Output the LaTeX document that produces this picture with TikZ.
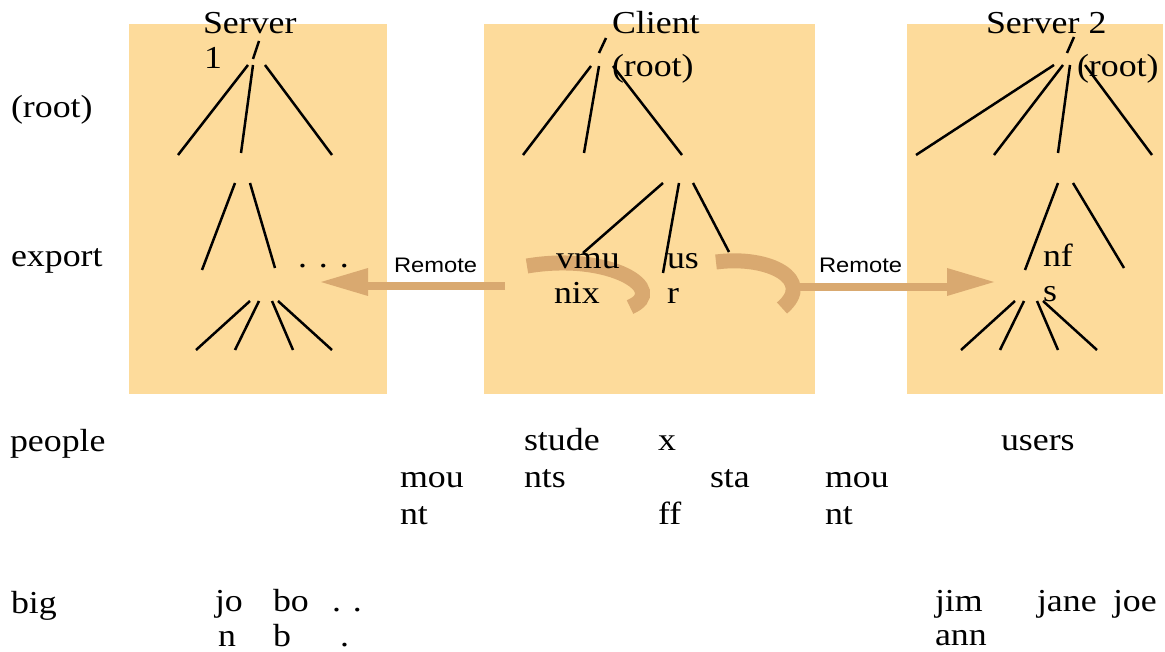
\documentclass[tikz,border=0pt]{standalone}
\usepackage{fontspec}
\usepackage{graphicx}
\setmainfont{Liberation Serif}
\newfontfamily\remotefont{Liberation Sans}
\newcommand{\sx}[1]{\scalebox{1.12}[1]{#1}}
\definecolor{boxfill}{RGB}{253,219,155}
\definecolor{tan}{RGB}{217,169,112}
\tikzset{
  panel/.style={fill=boxfill, draw=none},
  txt/.style={anchor=base west, inner sep=0pt, outer sep=0pt, font=\fontsize{32}{36}\selectfont},
  rem/.style={anchor=base west, inner sep=0pt, outer sep=0pt, font=\remotefont\fontsize{21}{24}\selectfont},
  edge/.style={line width=2.5pt, black},
  hook/.style={line width=15pt, tan},
  shaft/.style={line width=8pt, tan},
  head/.style={fill=tan, draw=none}
}
\begin{document}
\begin{tikzpicture}[x=1pt,y=1pt]
\useasboundingbox (0,0) rectangle (1165,-652);
% panels
\fill[panel] (129,-24) rectangle (387,-394);
\fill[panel] (484,-24) rectangle (815,-394);
\fill[panel] (907,-24) rectangle (1163,-394);
% mount arrows
\coordinate (ls) at (505,-286);
\coordinate (le) at (368,-286);
\coordinate (rs) at (800,-287);
\coordinate (re) at (947,-287);
\draw[shaft] (ls) -- (le);
\fill[head] (368,-268) -- (368,-296) -- (321,-282) -- cycle;
\draw[shaft] (rs) -- (re);
\fill[head] (947,-268) -- (947,-296) -- (994,-282) -- cycle;
\draw[hook] (527,-266) .. controls (610,-252) and (670,-290) .. (630,-307);
\draw[hook] (716,-262) .. controls (770,-255) and (815,-280) .. (782,-308);
% labels
\node[rem] (rem1) at (394,-273) {\scalebox{1.13}[1]{Remote}};
\node[rem] (rem2) at (819,-273) {\scalebox{1.13}[1]{Remote}};
\node[txt] (lroot) at (11,-118) {\sx{(root)}};
\node[txt] (lexport) at (11,-267) {\sx{export}};
\node[txt] (lpeople) at (10,-451) {\sx{people}};
\node[txt] (lbig) at (11,-613) {\sx{big}};
\node[txt] (s1a) at (203,-34) {\sx{Server}};
\node[txt] (s1b) at (204,-69) {\sx{1}};
\node[txt] (cl) at (612,-34) {\sx{Client}};
\node[txt] (clroot) at (612,-77) {\sx{(root)}};
\node[txt] (s2) at (986,-34) {\sx{Server 2}};
\node[txt] (s2root) at (1077,-77) {\sx{(root)}};
\node[txt] (vmu) at (556,-269) {\sx{vmu}};
\node[txt] (nix) at (554,-304) {\sx{nix}};
\node[txt] (us) at (667,-269) {\sx{us}};
\node[txt] (r) at (667,-304) {\sx{r}};
\node[txt] (nf) at (1043,-267) {\sx{nf}};
\node[txt] (s) at (1043,-302) {\sx{s}};
\node[txt] (dots1) at (298,-268) {\sx{. . .}};
\node[txt] (mou1) at (400,-487) {\sx{mou}};
\node[txt] (nt1) at (400,-524) {\sx{nt}};
\node[txt] (stude) at (524,-450) {\sx{stude}};
\node[txt] (nts) at (524,-487) {\sx{nts}};
\node[txt] (x) at (658,-450) {\sx{x}};
\node[txt] (sta) at (710,-487) {\sx{sta}};
\node[txt] (ff) at (658,-524) {\sx{ff}};
\node[txt] (mou2) at (825,-487) {\sx{mou}};
\node[txt] (nt2) at (825,-524) {\sx{nt}};
\node[txt] (users) at (1001,-450) {\sx{users}};
\node[txt] (jo) at (215,-611) {\sx{jo}};
\node[txt] (n) at (218,-646) {\sx{n}};
\node[txt] (bo) at (273,-611) {\sx{bo}};
\node[txt] (b) at (273,-646) {\sx{b}};
\node[txt] (dd) at (332,-611) {\sx{. .}};
\node[txt] (d) at (340,-646) {\sx{.}};
\node[txt] (jim) at (935,-611) {\sx{jim}};
\node[txt] (ann) at (935,-645) {\sx{ann}};
\node[txt] (jane) at (1037,-611) {\sx{jane}};
\node[txt] (joe) at (1113,-611) {\sx{joe}};
% Server 1 tree
\draw[edge] (259,-41) -- (253,-59);
\draw[edge] (248,-65) -- (178,-155);
\draw[edge] (253,-65) -- (241,-153);
\draw[edge] (265,-65) -- (332,-155);
\draw[edge] (235,-183) -- (202,-270);
\draw[edge] (250,-183) -- (275,-268);
\draw[edge] (250,-301) -- (196,-350);
\draw[edge] (259,-301) -- (235,-350);
\draw[edge] (272,-301) -- (293,-350);
\draw[edge] (278,-301) -- (332,-350);
% Client tree
\draw[edge] (606,-38) -- (599,-53);
\draw[edge] (591,-66) -- (523,-155);
\draw[edge] (599,-66) -- (584,-153);
\draw[edge] (613,-66) -- (682,-155);
\draw[edge] (663,-183) -- (583,-253);
\draw[edge] (679,-183) -- (663,-273);
\draw[edge] (693,-183) -- (729,-252);
% Server 2 tree
\draw[edge] (1074,-37) -- (1067,-53);
\draw[edge] (1054,-65) -- (916,-155);
\draw[edge] (1063,-65) -- (994,-155);
\draw[edge] (1070,-65) -- (1058,-153);
\draw[edge] (1085,-65) -- (1152,-155);
\draw[edge] (1058,-183) -- (1025,-270);
\draw[edge] (1073,-183) -- (1124,-268);
\draw[edge] (1015,-301) -- (961,-350);
\draw[edge] (1024,-301) -- (1000,-350);
\draw[edge] (1037,-301) -- (1058,-350);
\draw[edge] (1043,-301) -- (1097,-350);
\end{tikzpicture}
\end{document}
